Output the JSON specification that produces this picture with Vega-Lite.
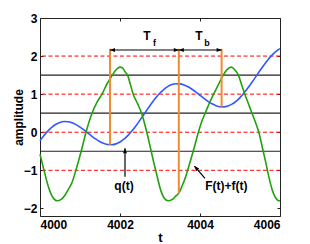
{
  "$schema": "https://vega.github.io/schema/vega-lite/v6.json",
  "width": 240,
  "height": 198,
  "autosize": "none",
  "padding": {"left": 40, "top": 18, "right": 30, "bottom": 28},
  "background": "white",
  "config": {"view": {"stroke": "#222", "strokeWidth": 1}, "font": "Liberation Sans"},
  "datasets": {
    "blue": [
      {"t": 4000.0, "v": -0.22}, {"t": 4000.1, "v": -0.084}, {"t": 4000.2, "v": 0.036}, {"t": 4000.3, "v": 0.134},
      {"t": 4000.4, "v": 0.209}, {"t": 4000.5, "v": 0.258}, {"t": 4000.6, "v": 0.28}, {"t": 4000.7, "v": 0.276},
      {"t": 4000.8, "v": 0.249}, {"t": 4000.9, "v": 0.2}, {"t": 4001.0, "v": 0.135}, {"t": 4001.1, "v": 0.059},
      {"t": 4001.2, "v": -0.024}, {"t": 4001.3, "v": -0.107}, {"t": 4001.4, "v": -0.183}, {"t": 4001.5, "v": -0.248},
      {"t": 4001.6, "v": -0.297}, {"t": 4001.7, "v": -0.324}, {"t": 4001.8, "v": -0.328}, {"t": 4001.9, "v": -0.306},
      {"t": 4002.0, "v": -0.257}, {"t": 4002.1, "v": -0.182}, {"t": 4002.2, "v": -0.084}, {"t": 4002.3, "v": 0.036},
      {"t": 4002.4, "v": 0.172}, {"t": 4002.5, "v": 0.319}, {"t": 4002.6, "v": 0.473}, {"t": 4002.7, "v": 0.626},
      {"t": 4002.8, "v": 0.774}, {"t": 4002.9, "v": 0.91}, {"t": 4003.0, "v": 1.03}, {"t": 4003.1, "v": 1.128},
      {"t": 4003.2, "v": 1.203}, {"t": 4003.3, "v": 1.251}, {"t": 4003.4, "v": 1.274}, {"t": 4003.5, "v": 1.27},
      {"t": 4003.6, "v": 1.243}, {"t": 4003.7, "v": 1.194}, {"t": 4003.8, "v": 1.129}, {"t": 4003.9, "v": 1.052},
      {"t": 4004.0, "v": 0.97}, {"t": 4004.1, "v": 0.887}, {"t": 4004.2, "v": 0.811}, {"t": 4004.3, "v": 0.746},
      {"t": 4004.4, "v": 0.697}, {"t": 4004.5, "v": 0.67}, {"t": 4004.6, "v": 0.666}, {"t": 4004.7, "v": 0.688},
      {"t": 4004.8, "v": 0.737}, {"t": 4004.9, "v": 0.812}, {"t": 4005.0, "v": 0.91}, {"t": 4005.1, "v": 1.03},
      {"t": 4005.2, "v": 1.166}, {"t": 4005.3, "v": 1.313}, {"t": 4005.4, "v": 1.467}, {"t": 4005.5, "v": 1.62},
      {"t": 4005.6, "v": 1.768}, {"t": 4005.7, "v": 1.904}, {"t": 4005.8, "v": 2.024}, {"t": 4005.9, "v": 2.122},
      {"t": 4006.0, "v": 2.197}
    ],
    "green": [
      {"t": 4000.0, "v": -0.58}, {"t": 4000.05, "v": -0.79}, {"t": 4000.12, "v": -1.08}, {"t": 4000.2, "v": -1.4},
      {"t": 4000.28, "v": -1.63}, {"t": 4000.35, "v": -1.75}, {"t": 4000.43, "v": -1.8}, {"t": 4000.52, "v": -1.77},
      {"t": 4000.62, "v": -1.66}, {"t": 4000.72, "v": -1.48}, {"t": 4000.8, "v": -1.32}, {"t": 4000.9, "v": -0.99},
      {"t": 4000.97, "v": -0.73}, {"t": 4001.03, "v": -0.5}, {"t": 4001.15, "v": 0.0}, {"t": 4001.3, "v": 0.5},
      {"t": 4001.42, "v": 0.78}, {"t": 4001.55, "v": 1.0}, {"t": 4001.68, "v": 1.28}, {"t": 4001.75, "v": 1.4},
      {"t": 4001.82, "v": 1.52}, {"t": 4001.92, "v": 1.66}, {"t": 4002.0, "v": 1.71}, {"t": 4002.06, "v": 1.69},
      {"t": 4002.125, "v": 1.59}, {"t": 4002.19, "v": 1.5}, {"t": 4002.26, "v": 1.25}, {"t": 4002.33, "v": 1.0},
      {"t": 4002.44, "v": 0.75}, {"t": 4002.54, "v": 0.5}, {"t": 4002.67, "v": 0.0}, {"t": 4002.78, "v": -0.5},
      {"t": 4002.85, "v": -0.82}, {"t": 4002.92, "v": -1.12}, {"t": 4003.03, "v": -1.56}, {"t": 4003.1, "v": -1.72},
      {"t": 4003.2, "v": -1.8}, {"t": 4003.3, "v": -1.77}, {"t": 4003.4, "v": -1.67}, {"t": 4003.47, "v": -1.6},
      {"t": 4003.55, "v": -1.42}, {"t": 4003.65, "v": -1.14}, {"t": 4003.74, "v": -0.83}, {"t": 4003.83, "v": -0.5},
      {"t": 4003.96, "v": 0.0}, {"t": 4004.05, "v": 0.3}, {"t": 4004.13, "v": 0.5}, {"t": 4004.24, "v": 0.78},
      {"t": 4004.34, "v": 1.0}, {"t": 4004.46, "v": 1.25}, {"t": 4004.58, "v": 1.5}, {"t": 4004.68, "v": 1.65},
      {"t": 4004.78, "v": 1.71}, {"t": 4004.87, "v": 1.64}, {"t": 4004.96, "v": 1.5}, {"t": 4005.04, "v": 1.25},
      {"t": 4005.12, "v": 1.0}, {"t": 4005.21, "v": 0.75}, {"t": 4005.3, "v": 0.5}, {"t": 4005.4, "v": 0.22},
      {"t": 4005.47, "v": 0.0}, {"t": 4005.58, "v": -0.5}, {"t": 4005.65, "v": -0.82}, {"t": 4005.71, "v": -1.12},
      {"t": 4005.82, "v": -1.56}, {"t": 4005.89, "v": -1.72}, {"t": 4005.97, "v": -1.8}, {"t": 4006.0, "v": -1.8}
    ],
    "red": [{"y": 2}, {"y": 1}, {"y": 0}, {"y": -1}],
    "black": [{"y": 1.5}, {"y": 0.5}, {"y": -0.5}],
    "orange": [
      {"x": 4001.75, "y": -0.33, "y2": 2.19},
      {"x": 4003.47, "y": -1.61, "y2": 2.19},
      {"x": 4004.54, "y": 0.67, "y2": 2.19}
    ],
    "segs": [
      {"x": 4001.75, "x2": 4003.47, "y": 2.16, "y2": 2.16},
      {"x": 4003.47, "x2": 4004.54, "y": 2.16, "y2": 2.16},
      {"x": 4002.125, "x2": 4002.125, "y": -0.42, "y2": -1.17},
      {"x": 4003.86, "x2": 4004.125, "y": -0.89, "y2": -1.21}
    ],
    "heads": [
      {"x": 4001.75, "y": 2.16, "a": 180},
      {"x": 4003.47, "y": 2.16, "a": 0},
      {"x": 4003.47, "y": 2.16, "a": 180},
      {"x": 4004.54, "y": 2.16, "a": 0},
      {"x": 4002.125, "y": -0.42, "a": 270},
      {"x": 4003.86, "y": -0.89, "a": 229}
    ],
    "bigtext": [
      {"x": 4002.675, "y": 2.43, "s": "T"},
      {"x": 4003.975, "y": 2.43, "s": "T"},
      {"x": 4002.1, "y": -1.51, "s": "q(t)"},
      {"x": 4004.66, "y": -1.53, "s": "F(t)+f(t)"}
    ],
    "subtext": [
      {"x": 4002.86, "y": 2.27, "s": "f"},
      {"x": 4004.175, "y": 2.27, "s": "b"}
    ]
  },
  "layer": [
    {
      "data": {"name": "red"},
      "mark": {"type": "rule", "color": "#ff0000", "strokeWidth": 1, "strokeDash": [4, 2.5]},
      "encoding": {"y": {"field": "y", "type": "quantitative", "scale": {"domain": [-2.2, 3], "nice": false, "zero": false}, "axis": null}}
    },
    {
      "data": {"name": "black"},
      "mark": {"type": "rule", "color": "#222222", "strokeWidth": 1.2},
      "encoding": {"y": {"field": "y", "type": "quantitative", "axis": null}}
    },
    {
      "data": {"name": "blue"},
      "mark": {"type": "line", "color": "#3158ff", "strokeWidth": 1.6, "interpolate": "monotone"},
      "encoding": {
        "x": {"field": "t", "type": "quantitative", "scale": {"domain": [4000, 4006], "nice": false, "zero": false},
          "axis": {"orient": "bottom", "values": [4000, 4002, 4004, 4006], "format": "d", "title": "t", "grid": false,
            "tickSize": -3, "tickColor": "#222", "domain": false, "labelPadding": 6,
            "labelFont": "Liberation Sans", "labelFontSize": 12, "labelFontWeight": "bold", "labelColor": "#000",
            "titleFont": "Liberation Sans", "titleFontSize": 13, "titleFontWeight": "bold", "titleColor": "#000",
            "titleY": 25, "titleBaseline": "alphabetic"}},
        "y": {"field": "v", "type": "quantitative",
          "axis": {"orient": "left", "values": [-2, -1, 0, 1, 2, 3], "title": "amplitude", "grid": false,
            "tickSize": -3, "tickColor": "#222", "domain": false, "labelPadding": 6,
            "labelFont": "Liberation Sans", "labelFontSize": 12, "labelFontWeight": "bold", "labelColor": "#000",
            "titleFont": "Liberation Sans", "titleFontSize": 12, "titleFontWeight": "bold", "titleColor": "#000",
            "titleX": -18, "titleY": 99, "titleAngle": -90, "titleAlign": "center", "titleBaseline": "alphabetic"}}
      }
    },
    {
      "data": {"name": "green"},
      "mark": {"type": "line", "color": "#22a010", "strokeWidth": 1.6, "interpolate": "monotone"},
      "encoding": {
        "x": {"field": "t", "type": "quantitative",
          "axis": {"orient": "top", "values": [4000, 4002, 4004, 4006], "labels": false, "title": null, "grid": false,
            "tickSize": -3, "tickColor": "#222", "domain": false}},
        "y": {"field": "v", "type": "quantitative",
          "axis": {"orient": "right", "values": [-2, -1, 0, 1, 2, 3], "labels": false, "title": null, "grid": false,
            "tickSize": -3, "tickColor": "#222", "domain": false}}
      }
    },
    {
      "data": {"name": "orange"},
      "mark": {"type": "rule", "color": "#f28a30", "strokeWidth": 2},
      "encoding": {
        "x": {"field": "x", "type": "quantitative", "axis": null},
        "y": {"field": "y", "type": "quantitative", "axis": null},
        "y2": {"field": "y2"}
      }
    },
    {
      "data": {"name": "segs"},
      "mark": {"type": "rule", "color": "#000", "strokeWidth": 1.2},
      "encoding": {
        "x": {"field": "x", "type": "quantitative", "axis": null},
        "x2": {"field": "x2"},
        "y": {"field": "y", "type": "quantitative", "axis": null},
        "y2": {"field": "y2"}
      }
    },
    {
      "data": {"name": "heads"},
      "mark": {"type": "point", "shape": "M0,0L-1,-0.4L-1,0.4Z", "filled": true, "color": "#000", "size": 100, "opacity": 1},
      "encoding": {
        "x": {"field": "x", "type": "quantitative", "axis": null},
        "y": {"field": "y", "type": "quantitative", "axis": null},
        "angle": {"field": "a", "type": "quantitative", "scale": null}
      }
    },
    {
      "data": {"name": "bigtext"},
      "mark": {"type": "text", "font": "Liberation Sans", "fontSize": 12, "fontWeight": "bold", "color": "#000", "align": "center", "baseline": "alphabetic"},
      "encoding": {
        "x": {"field": "x", "type": "quantitative", "axis": null},
        "y": {"field": "y", "type": "quantitative", "axis": null},
        "text": {"field": "s"}
      }
    },
    {
      "data": {"name": "subtext"},
      "mark": {"type": "text", "font": "Liberation Sans", "fontSize": 9, "fontWeight": "bold", "color": "#000", "align": "center", "baseline": "alphabetic"},
      "encoding": {
        "x": {"field": "x", "type": "quantitative", "axis": null},
        "y": {"field": "y", "type": "quantitative", "axis": null},
        "text": {"field": "s"}
      }
    }
  ],
  "resolve": {"axis": {"x": "independent", "y": "independent"}}
}
